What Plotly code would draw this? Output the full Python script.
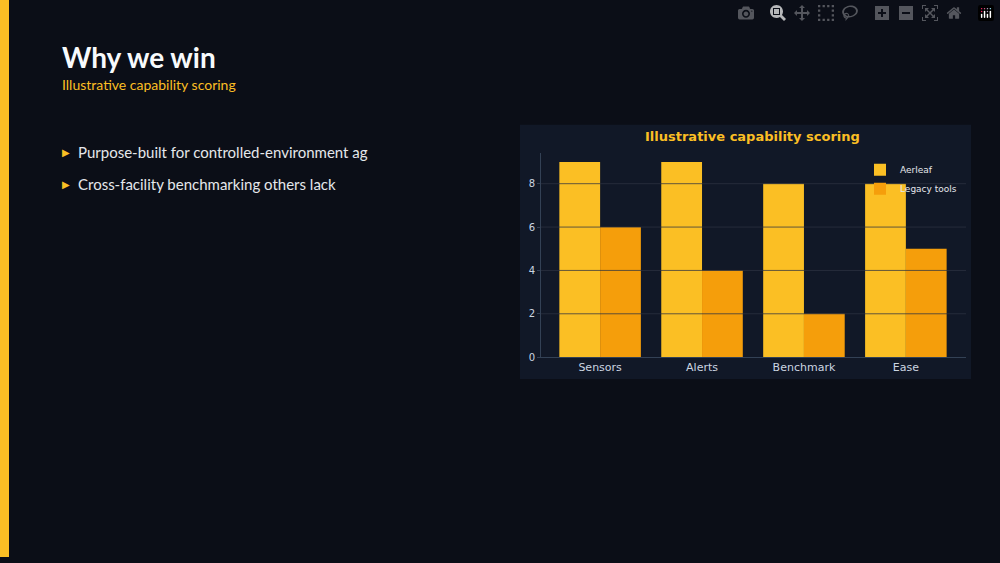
import plotly.graph_objects as go

categories = ["Sensors", "Alerts", "Benchmark", "Ease"]
aerleaf = [9, 9, 8, 8]
legacy = [6, 4, 2, 5]
y_ticks = [0, 2, 4, 6, 8]
bullets = ["Purpose-built for controlled-environment ag", "Cross-facility benchmarking others lack"]

W, H = 1000, 563
def px(x): return x / W
def py(y): return 1 - y / H

fig = go.Figure()
fig.add_bar(x=categories, y=aerleaf, name="Aerleaf", marker=dict(color="#fbbf24", line=dict(width=0)))
fig.add_bar(x=categories, y=legacy, name="Legacy tools", marker=dict(color="#f59e0b", line=dict(width=0)))

shapes = [
    dict(type="rect", xref="paper", yref="paper", x0=0, x1=px(9), y0=0, y1=1,
         fillcolor="#fbbf24", line=dict(width=0), layer="below"),
    dict(type="rect", xref="paper", yref="paper", x0=px(520), x1=px(971), y0=py(383), y1=py(126),
         fillcolor="#111827", line=dict(width=0), layer="below"),
]
for t in y_ticks[1:]:
    shapes.append(dict(type="line", xref="x domain", yref="y", x0=0, x1=1, y0=t, y1=t,
                       line=dict(color="rgba(45,51,66,0.75)", width=1), layer="above"))

fig.update_layout(
    width=W, height=H, margin=dict(l=0, r=0, t=0, b=0),
    paper_bgcolor="#0b0e17", plot_bgcolor="#111827",
    barmode="group", bargap=0.2, bargroupgap=0,
    font=dict(family="DejaVu Sans", color="#cbd5e1"),
    showlegend=True,
    legend=dict(x=px(962), y=py(157), xanchor="right", yanchor="top", bgcolor="rgba(0,0,0,0)",
                font=dict(size=9, color="#e5e7eb"), tracegroupgap=0),
    xaxis=dict(domain=[px(541), px(966)], range=[-0.58, 3.59], showgrid=False,
               showline=True, linecolor="#334155", ticks="", tickfont=dict(size=11, color="#cbd5e1"),
               anchor="y"),
    yaxis=dict(domain=[py(361), py(155)], range=[0, 9.4], tickvals=y_ticks,
               showgrid=False, zeroline=False, showline=True, linecolor="#334155",
               ticks="outside", ticklen=3, tickcolor="#334155",
               tickfont=dict(size=10, color="#cbd5e1"), anchor="x"),
    shapes=shapes,
)

anns = [
    dict(x=px(60), y=py(58), text="<b>Why we win</b>", font=dict(family="Lato", size=28, color="#f8fafc")),
    dict(x=px(60), y=py(85), text="Illustrative capability scoring", font=dict(family="Lato", size=14, color="#fbbf24")),
    dict(x=px(752), y=py(138), text="<b>Illustrative capability scoring</b>", xanchor="center",
         font=dict(family="DejaVu Sans", size=13, color="#fbbf24")),
]
for i, b in enumerate(bullets):
    yy = 154 + 32 * i
    anns.append(dict(x=px(60), y=py(yy), text="▶", font=dict(family="DejaVu Sans", size=10, color="#fbbf24")))
    anns.append(dict(x=px(76), y=py(yy), text=b, font=dict(family="Lato", size=15, color="#e5e7eb")))
for a in anns:
    a.setdefault("xanchor", "left")
    a.update(xref="paper", yref="paper", yanchor="middle", showarrow=False)
fig.update_layout(annotations=anns)

fig.write_html("out.html", post_script="document.body.style.margin='0';document.body.style.background='#0b0e17';")
